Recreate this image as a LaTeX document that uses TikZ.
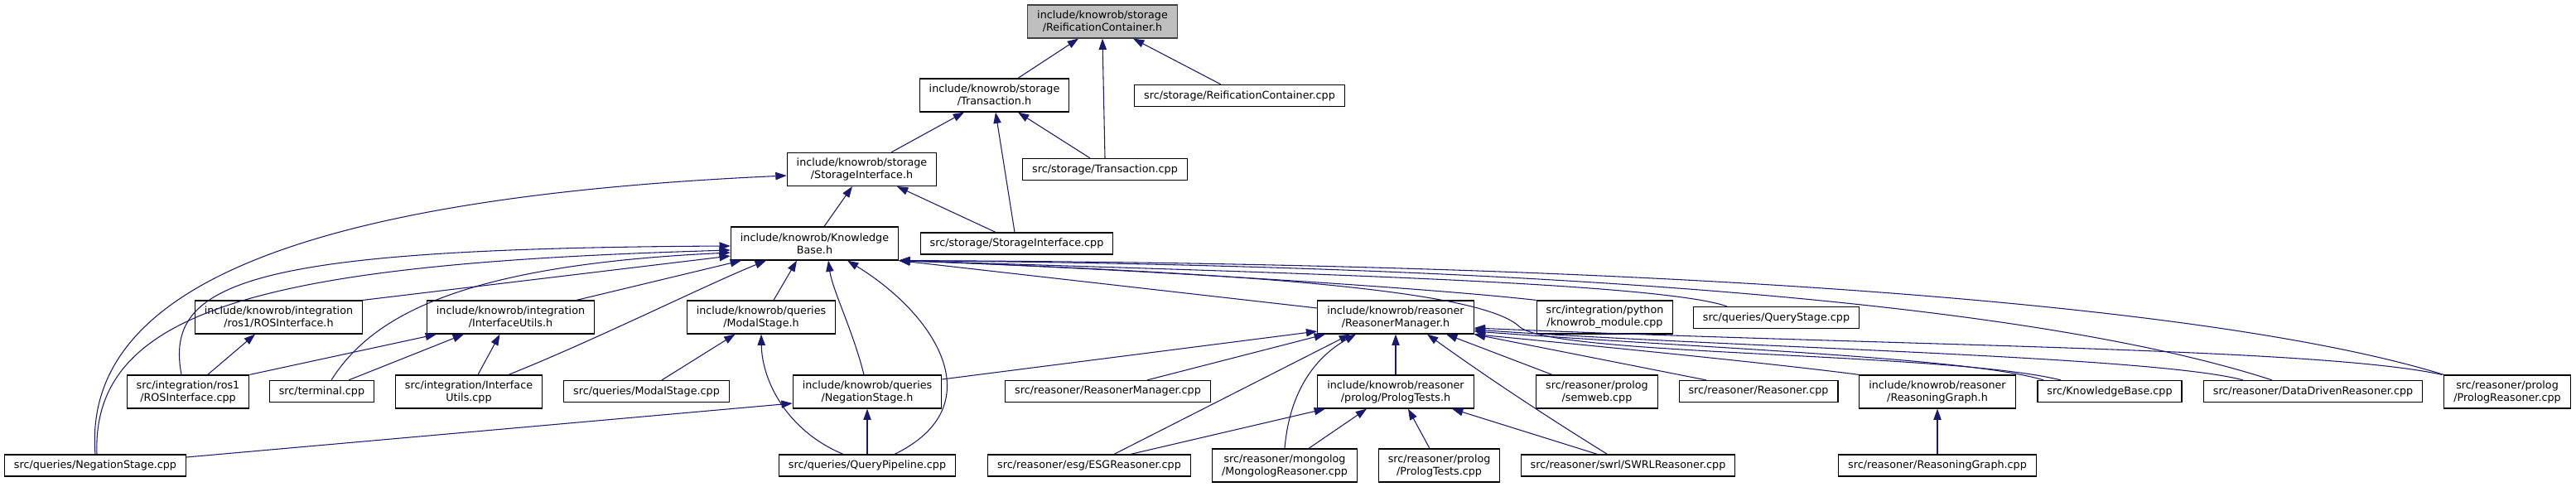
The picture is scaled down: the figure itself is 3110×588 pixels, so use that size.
\documentclass[tikz,border=0pt]{standalone}
\usepackage{fontspec}
\setmainfont{DejaVu Sans}
\usepackage{tikz}
\usetikzlibrary{arrows.meta,calc}
\definecolor{incedge}{HTML}{191970}
\definecolor{incgray}{HTML}{BFBFBF}
\definecolor{incrootline}{HTML}{404040}
\tikzset{%
  incbox/.style={%
    draw=black,
    fill=white,
    line width=0.9pt,
    minimum height=19.5pt,
    inner xsep=8.6pt,
    inner ysep=0pt,
    align=center,
    font=\fontsize{9.55pt}{11.25pt}\selectfont
  },
  inctwo/.style={incbox,minimum height=30pt},
  incroot/.style={inctwo,fill=incgray,draw=incrootline},
  incarrow/.style={-{Triangle[length=10pt,width=7pt]},line width=0.8pt,draw=incedge}
}
\begin{document}
\begin{tikzpicture}[x=0.75pt,y=-0.75pt]
    \useasboundingbox (0,0) rectangle (3110,588);
    % storage headers
    \node[incroot] (reifh) at (1331,26) {include/knowrob/storage\\/ReificationContainer.h};
    \node[inctwo] (transh) at (1200.5,115) {include/knowrob/storage\\/Transaction.h};
    \node[incbox] (reifcpp) at (1496.5,115.5) {src/storage/ReificationContainer.cpp};
    \node[inctwo] (storh) at (1040.5,204.5) {include/knowrob/storage\\/StorageInterface.h};
    \node[incbox] (transcpp) at (1334,204.5) {src/storage/Transaction.cpp};
    \node[incbox] (storcpp) at (1227.5,294) {src/storage/StorageInterface.cpp};
    \node[inctwo] (kbh) at (983.5,294) {include/knowrob/Knowledge\\Base.h};
    % integration and queries
    \node[inctwo] (rosh) at (336.5,383) {include/knowrob/integration\\/ros1/ROSInterface.h};
    \node[inctwo] (iutilh) at (616.5,383) {include/knowrob/integration\\/InterfaceUtils.h};
    \node[inctwo] (modalh) at (919,383) {include/knowrob/queries\\/ModalStage.h};
    \node[inctwo] (roscpp) at (227,473) {src/integration/ros1\\/ROSInterface.cpp};
    \node[incbox] (termcpp) at (388.5,472.5) {src/terminal.cpp};
    \node[inctwo] (iutilcpp) at (566,473) {src/integration/Interface\\Utils.cpp};
    \node[incbox] (modalcpp) at (780.5,472.5) {src/queries/ModalStage.cpp};
    \node[inctwo] (negh) at (1047,473) {include/knowrob/queries\\/NegationStage.h};
    \node[incbox] (negcpp) at (115,562) {src/queries/NegationStage.cpp};
    \node[incbox] (qpipecpp) at (1047,562) {src/queries/QueryPipeline.cpp};
    % reasoner
    \node[inctwo] (rmh) at (1685,383) {include/knowrob/reasoner\\/ReasonerManager.h};
    \node[inctwo] (pymodcpp) at (1937.5,383) {src/integration/python\\/knowrob\_module.cpp};
    \node[incbox] (qstagecpp) at (2144.5,383.5) {src/queries/QueryStage.cpp};
    \node[incbox] (rmcpp) at (1337.5,472.5) {src/reasoner/ReasonerManager.cpp};
    \node[inctwo] (plth) at (1685,473) {include/knowrob/reasoner\\/prolog/PrologTests.h};
    \node[inctwo] (semwebcpp) at (1928,473) {src/reasoner/prolog\\/semweb.cpp};
    \node[incbox] (reasonercpp) at (2123,472.5) {src/reasoner/Reasoner.cpp};
    \node[inctwo] (rgraphh) at (2339,473) {include/knowrob/reasoner\\/ReasoningGraph.h};
    \node[incbox] (kbcpp) at (2547,472.5) {src/KnowledgeBase.cpp};
    \node[incbox] (ddrcpp) at (2792.5,472.5) {src/reasoner/DataDrivenReasoner.cpp};
    \node[inctwo] (plrcpp) at (3027,473) {src/reasoner/prolog\\/PrologReasoner.cpp};
    \node[incbox] (esgcpp) at (1315,562) {src/reasoner/esg/ESGReasoner.cpp};
    \node[inctwo] (mongocpp) at (1551,562) {src/reasoner/mongolog\\/MongologReasoner.cpp};
    \node[inctwo] (pltcpp) at (1737.6,562) {src/reasoner/prolog\\/PrologTests.cpp};
    \node[incbox] (swrlcpp) at (1965.5,562) {src/reasoner/swrl/SWRLReasoner.cpp};
    \node[incbox] (rgraphcpp) at (2339,562) {src/reasoner/ReasoningGraph.cpp};

    % storage includes
    \draw[incarrow] ($(transh.north)+(28.5,0)$) -- ($(reifh.south)+(-29,0)$);
    \draw[incarrow] (transcpp.north) -- (reifh.south);
    \draw[incarrow] ($(reifcpp.north)+(-22.5,0)$) -- ($(reifh.south)+(37,0)$);
    \draw[incarrow] ($(storh.north)+(35.5,0)$) -- ($(transh.south)+(-36.5,0)$);
    \draw[incarrow] ($(storcpp.north)+(-2.5,0)$) -- ($(transh.south)+(1.5,0)$);
    \draw[incarrow] ($(transcpp.north)+(-18,0)$) -- ($(transh.south)+(28.5,0)$);
    \draw[incarrow] ($(kbh.north)+(11.5,0)$) -- ($(storh.south)+(-11.5,0)$);
    \draw[incarrow] ($(storcpp.north)+(-25.5,0)$) -- ($(storh.south)+(42.5,0)$);
    \draw[incarrow] (negcpp.north) .. controls (100,360) and (330,240) .. ($(storh.west)+(0,7.5)$);

    % into KnowledgeBase.h
    \draw[incarrow] (rosh.north east) -- ($(kbh.west)+(0,15)$);
    \draw[incarrow] ($(roscpp.north)+(-8,0)$) .. controls (198,340) and (300,300) .. ($(kbh.west)+(0,3)$);
    \draw[incarrow] ($(negcpp.north)+(2,0)$) .. controls (110,370) and (330,318) .. ($(kbh.west)+(0,8)$);
    \draw[incarrow] ($(termcpp.north)+(11.5,0)$) .. controls (450,380) and (560,320) .. ($(kbh.west)+(0,11)$);
    \draw[incarrow] ($(iutilh.north)+(79.5,0)$) -- ($(kbh.south)+(-88.5,0)$);
    \draw[incarrow] ($(iutilcpp.north)+(48,0)$) .. controls (720,410) and (850,345) .. ($(kbh.south)+(-58.5,0)$);
    \draw[incarrow] ($(modalh.north)+(15,0)$) -- ($(kbh.south)+(-21.5,0)$);
    \draw[incarrow] ($(negh.north)+(-4,0)$) .. controls (1030,400) and (1005,350) .. ($(kbh.south)+(16.5,0)$);
    \draw[incarrow] ($(qpipecpp.north)+(33,0)$) .. controls (1200,490) and (1130,380) .. ($(kbh.south)+(39.5,0)$);
    \draw[incarrow] ($(rmh.west)+(0,-11)$) -- (kbh.south east);
    \draw[incarrow] (pymodcpp.north west) .. controls (1700,345) and (1300,322) .. (kbh.south east);
    \draw[incarrow] ($(qstagecpp.north)+(-59.5,0)$) .. controls (2000,340) and (1500,328) .. (kbh.south east);
    \draw[incarrow] ($(ddrcpp.north)+(-49.5,0)$) .. controls (2500,380) and (2000,322) .. (kbh.south east);
    \draw[incarrow] (plrcpp.north west) .. controls (2700,375) and (2100,318) .. (kbh.south east);
    \draw[incarrow] ($(kbcpp.north)+(-59,0)$) .. controls (2350,425) and (1880,430) .. (1835,395)
      .. controls (1790,350) and (1500,330) .. (kbh.south east);

    % queries and integration
    \draw[incarrow] ($(qpipecpp.north)+(-29,0)$) .. controls (950,520) and (920,460) .. (modalh.south);
    \draw[incarrow] (qpipecpp.north) -- (negh.south);
    \draw[incarrow] ($(modalcpp.north)+(18.5,0)$) -- ($(modalh.south)+(-31.5,0)$);
    \draw[incarrow] ($(negcpp.east)+(0,-10)$) -- ($(negh.west)+(0,14)$);
    \draw[incarrow] ($(roscpp.north)+(23.7,0)$) -- ($(rosh.south)+(-28.5,0)$);
    \draw[incarrow] (roscpp.north east) -- ($(iutilh.south)+(-89.5,0)$);
    \draw[incarrow] ($(termcpp.north)+(32.5,0)$) -- ($(iutilh.south)+(-56.5,0)$);
    \draw[incarrow] ($(iutilcpp.north)+(11,0)$) -- ($(iutilh.south)+(-13,0)$);

    % into ReasonerManager.h
    \draw[incarrow] ($(negh.east)+(0,-15)$) -- ($(rmh.west)+(0,17)$);
    \draw[incarrow] ($(rmcpp.north)+(47.5,0)$) -- ($(rmh.south)+(-85,0)$);
    \draw[incarrow] ($(esgcpp.north)+(30,0)$) -- ($(rmh.south)+(-55,0)$);
    \draw[incarrow] (mongocpp.north) .. controls (1557,470) and (1590,430) .. ($(rmh.south)+(-48,0)$);
    \draw[incarrow] (plth.north) -- (rmh.south);
    \draw[incarrow] ($(swrlcpp.north)+(-25,0)$) .. controls (1830,480) and (1760,430) .. ($(rmh.south)+(38,0)$);
    \draw[incarrow] ($(semwebcpp.north)+(-54,0)$) -- ($(rmh.south)+(61,0)$);
    \draw[incarrow] ($(reasonercpp.north)+(-63,0)$) -- (rmh.south east);
    \draw[incarrow] (rgraphh.north west) .. controls (2150,440) and (1950,420) .. (rmh.south east);
    \draw[incarrow] ($(kbcpp.north)+(-80,0)$) .. controls (2380,432) and (2050,420) .. ($(rmh.east)+(0,17)$);
    \draw[incarrow] ($(ddrcpp.north)+(-84.5,0)$) .. controls (2600,430) and (2100,420) .. ($(rmh.east)+(0,15)$);
    \draw[incarrow] ($(plrcpp.north west)+(-2,0)$) .. controls (2800,420) and (2300,418) .. ($(rmh.east)+(0,13)$);

    % prolog tests and reasoning graph
    \draw[incarrow] ($(esgcpp.north)+(50,0)$) -- ($(plth.south)+(-85,0)$);
    \draw[incarrow] ($(mongocpp.north)+(29,0)$) -- ($(plth.south)+(-35,0)$);
    \draw[incarrow] ($(pltcpp.north)+(-11.6,0)$) -- ($(plth.south)+(15,0)$);
    \draw[incarrow] ($(swrlcpp.north)+(-37,0)$) -- ($(plth.south)+(68,0)$);
    \draw[incarrow] (rgraphcpp.north) -- (rgraphh.south);
\end{tikzpicture}
\end{document}
